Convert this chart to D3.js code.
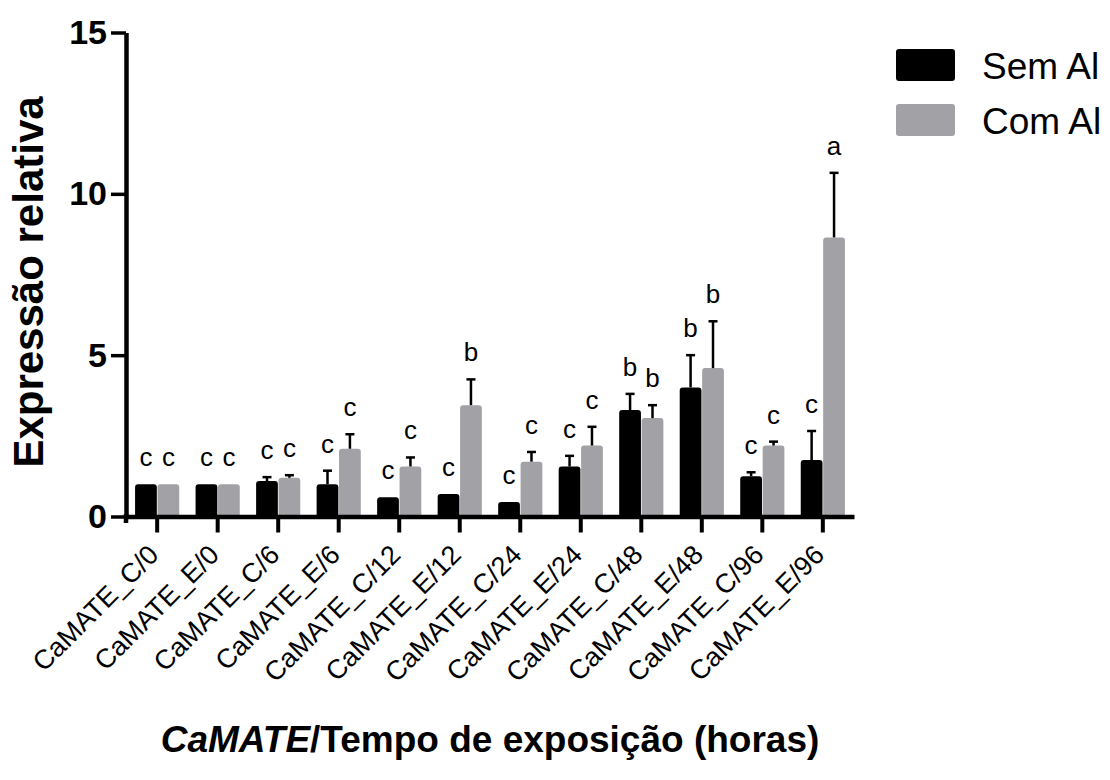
<!DOCTYPE html>
<html>
<head>
<meta charset="utf-8">
<script src="https://cdn.jsdelivr.net/npm/d3@7"></script>
<style>
  html, body { margin: 0; padding: 0; background: #fff; }
  svg { display: block; font-family: "Liberation Sans", Arial, sans-serif; }
</style>
</head>
<body>
<svg id="chart" width="1110" height="780"></svg>
<script>
// Relative CaMATE expression, without / with aluminium, per exposure time
const categories = ["CaMATE_C/0", "CaMATE_E/0", "CaMATE_C/6", "CaMATE_E/6",
  "CaMATE_C/12", "CaMATE_E/12", "CaMATE_C/24", "CaMATE_E/24",
  "CaMATE_C/48", "CaMATE_E/48", "CaMATE_C/96", "CaMATE_E/96"];
const seriesNames = ["Sem Al", "Com Al"];
const semAl    = [1.0, 1.0, 1.1, 1.0, 0.6, 0.7, 0.45, 1.55, 3.3, 4.0, 1.25, 1.75];
const semAlErr = [0, 0, 0.12, 0.42, 0, 0, 0, 0.33, 0.5, 1.0, 0.12, 0.9];
const comAl    = [1.0, 1.0, 1.2, 2.1, 1.55, 3.45, 1.7, 2.2, 3.05, 4.6, 2.2, 8.65];
const comAlErr = [0, 0, 0.08, 0.45, 0.28, 0.8, 0.3, 0.58, 0.4, 1.45, 0.12, 2.0];
const semAlLetters = ["c", "c", "c", "c", "c", "c", "c", "c", "b", "b", "c", "c"];
const comAlLetters = ["c", "c", "c", "c", "c", "b", "c", "c", "b", "b", "c", "a"];
const yTicks = [0, 5, 10, 15];

const colors = { "Sem Al": "#000000", "Com Al": "#a2a1a6" };

const rows = [];
categories.forEach((cat, i) => {
  rows.push({ cat, series: "Sem Al", value: semAl[i], err: semAlErr[i], letter: semAlLetters[i] });
  rows.push({ cat, series: "Com Al", value: comAl[i], err: comAlErr[i], letter: comAlLetters[i] });
});

const svg = d3.select("#chart");

const y = d3.scaleLinear().domain([0, 15]).range([516.5, 32.5]);
const x0 = d3.scaleBand().domain(categories).range([126, 854])
  .paddingInner(0.27).paddingOuter(0.15);
const x1 = d3.scaleBand().domain(seriesNames).range([0, x0.bandwidth()]).paddingInner(0.03);

// bar with slightly rounded top corners
function barPath(x, w, yTop, yBase, r) {
  r = Math.min(r, w / 2, (yBase - yTop) / 2);
  return `M${x},${yBase}V${yTop + r}Q${x},${yTop} ${x + r},${yTop}` +
         `H${x + w - r}Q${x + w},${yTop} ${x + w},${yTop + r}V${yBase}Z`;
}

const barsG = svg.append("g");
barsG.selectAll("path.bar").data(rows).join("path")
  .attr("class", "bar")
  .attr("fill", d => colors[d.series])
  .attr("d", d => barPath(x0(d.cat) + x1(d.series), x1.bandwidth(), y(d.value), y(0), 3));

// upper error bars
const errRows = rows.filter(d => d.err > 0);
const errG = svg.append("g").attr("stroke", "#000").attr("stroke-width", 2.5);
errG.selectAll("line.stem").data(errRows).join("line")
  .attr("x1", d => x0(d.cat) + x1(d.series) + x1.bandwidth() / 2)
  .attr("x2", d => x0(d.cat) + x1(d.series) + x1.bandwidth() / 2)
  .attr("y1", d => y(d.value))
  .attr("y2", d => y(d.value + d.err));
errG.selectAll("line.cap").data(errRows).join("line")
  .attr("x1", d => x0(d.cat) + x1(d.series) + x1.bandwidth() / 2 - 4.5)
  .attr("x2", d => x0(d.cat) + x1(d.series) + x1.bandwidth() / 2 + 4.5)
  .attr("y1", d => y(d.value + d.err))
  .attr("y2", d => y(d.value + d.err));

// significance letters
svg.append("g").selectAll("text").data(rows).join("text")
  .attr("x", d => x0(d.cat) + x1(d.series) + x1.bandwidth() / 2)
  .attr("y", d => y(d.value + d.err) - 18)
  .attr("text-anchor", "middle")
  .attr("font-size", 26)
  .attr("fill", "#000")
  .text(d => d.letter);

// y axis
const yAxis = svg.append("g").attr("transform", "translate(126,0)")
  .call(d3.axisLeft(y).tickValues(yTicks).tickSize(15).tickSizeOuter(0).tickPadding(4));
yAxis.select(".domain").attr("stroke-width", 4.5);
yAxis.selectAll(".tick line").attr("stroke-width", 3.5);
yAxis.selectAll(".tick text")
  .attr("font-size", 34).attr("font-weight", "bold").attr("fill", "#000")
  .attr("font-family", "Liberation Sans, Arial, sans-serif");
yAxis.append("line").attr("x1", 0).attr("x2", 0).attr("y1", 514).attr("y2", 523)
  .attr("stroke", "#000").attr("stroke-width", 4.5);

// x axis
const xAxis = svg.append("g").attr("transform", "translate(0,516.5)")
  .call(d3.axisBottom(x0).tickSize(16).tickSizeOuter(0));
xAxis.select(".domain").attr("stroke-width", 4.5);
xAxis.selectAll(".tick line").attr("stroke-width", 4);
xAxis.selectAll(".tick text")
  .attr("x", 0).attr("y", 0).attr("dy", 0)
  .attr("text-anchor", "end")
  .attr("transform", "translate(3,40) rotate(-45)")
  .attr("font-size", 27).attr("fill", "#000")
  .attr("font-family", "Liberation Sans, Arial, sans-serif");

// axis titles
svg.append("text")
  .attr("transform", "translate(43,282) rotate(-90)")
  .attr("text-anchor", "middle")
  .attr("font-size", 42).attr("font-weight", "bold")
  .text("Expressão relativa");

const xt = svg.append("text")
  .attr("x", 490).attr("y", 752)
  .attr("text-anchor", "middle")
  .attr("font-size", 37).attr("font-weight", "bold");
xt.append("tspan").attr("font-style", "italic").text("CaMATE");
xt.append("tspan").text("/Tempo de exposição (horas)");

// legend
const legend = svg.append("g").attr("transform", "translate(896,49)");
seriesNames.forEach((name, i) => {
  const g = legend.append("g").attr("transform", `translate(0,${i * 55})`);
  g.append("rect").attr("width", 59).attr("height", 32).attr("rx", 3)
    .attr("fill", colors[name]);
  g.append("text").attr("x", 86).attr("y", 30)
    .attr("font-size", 37).attr("fill", "#000").text(name);
});
</script>
</body>
</html>
